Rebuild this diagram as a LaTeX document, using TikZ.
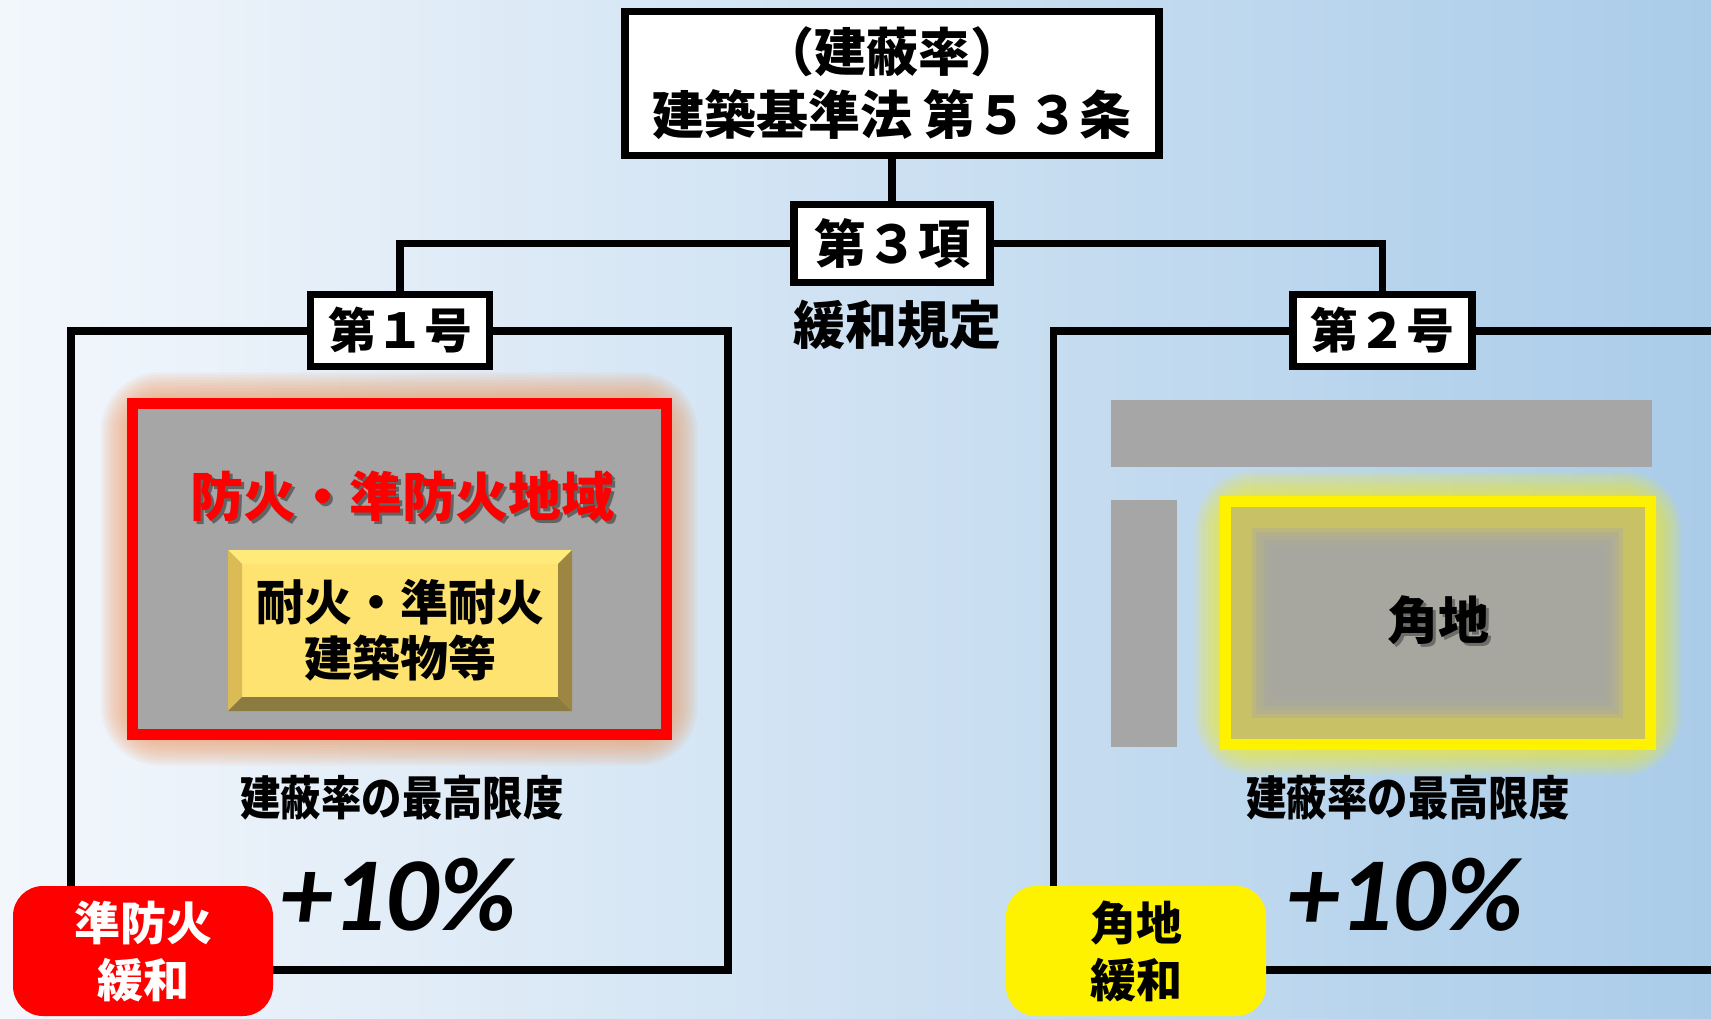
\documentclass[tikz,border=0pt]{standalone}
\usepackage{fontspec}
\usepackage{graphicx}
\newfontfamily\jp{Noto Sans CJK JP}
\newfontfamily\carl{Carlito}
\newcommand\fsz[2]{\fontsize{#1}{#2}\selectfont}
\definecolor{bgL}{RGB}{243,247,252}
\definecolor{bgR}{RGB}{170,204,233}
\definecolor{gr}{RGB}{166,166,166}
\definecolor{glowO}{RGB}{238,150,90}
\definecolor{olv}{RGB}{201,193,101}
\definecolor{bvTop}{RGB}{255,234,122}
\definecolor{bvFace}{RGB}{255,227,112}
\definecolor{bvLeft}{RGB}{218,187,85}
\definecolor{bvRight}{RGB}{156,134,66}
\definecolor{bvBot}{RGB}{140,123,64}
\tikzset{
  lbl/.style={draw=black, line width=3.75pt, fill=white, inner sep=0pt, align=center, font=\jp\bfseries\fsz{26pt}{31.5pt}},
  conn/.style={draw=black, line width=3.75pt},
  frm/.style={draw=black, line width=3.75pt},
  txt/.style={font=\jp\bfseries\fsz{26pt}{31pt}, inner sep=0pt, align=center},
}
\begin{document}
\begin{tikzpicture}[x=0.5pt,y=-0.5pt]
\path[use as bounding box, clip] (0,0) rectangle (1711,1018);
\shade[left color=bgL, right color=bgR] (0,0) rectangle (1711,1018);

% frames
\draw[frm] (71,331) rectangle (728,970);
\draw[frm] (1053.5,331) rectangle (1760,970);

% ---- left: fire zone ----
\foreach \w in {2,...,12}
  \draw[glowO, line width=\w*2.6pt, opacity=0.08, rounded corners=14pt] (132,403.5) rectangle (666.5,734.5);
\node[draw=red, line width=5.5pt, fill=gr, minimum width=267.25pt, minimum height=165.5pt, inner sep=0pt] (fz) at (399.25,569) {};
\node[txt, font=\jp\bfseries\fsz{26.5pt}{31pt}, text=black, opacity=0.4] at (405,499) {防火・準防火地域};
\node[txt, font=\jp\bfseries\fsz{26.5pt}{31pt}, text=red] (fzt) at (402,496) {防火・準防火地域};

% bevel box
\fill[bvFace] (242,564) rectangle (558,697);
\fill[bvTop] (228,550) -- (572,550) -- (558,564) -- (242,564) -- cycle;
\fill[bvLeft] (228,550) -- (242,564) -- (242,697) -- (228,711) -- cycle;
\fill[bvBot] (228,711) -- (242,697) -- (558,697) -- (572,711) -- cycle;
\fill[bvRight] (572,550) -- (572,711) -- (558,697) -- (558,564) -- cycle;
\node[txt, font=\jp\bfseries\fsz{24pt}{28pt}] (tk) at (400,630) {耐火・準耐火\\建築物等};

\node[txt, font=\jp\bfseries\fsz{23.5pt}{28pt}] (kl) at (402,798) {\scalebox{0.86}[1]{建蔽率の最高限度}};
\node[inner sep=0pt, font=\carl\bfseries\itshape\fsz{52.5pt}{60pt}] (pl) at (398,895) {+10\%};

\node[fill=red, rounded corners=15pt, minimum width=130pt, minimum height=65pt, inner sep=0pt, text=white, align=center, font=\jp\bfseries\fsz{23pt}{28.5pt}] (jb) at (143,951) {準防火\\緩和};

% ---- right: corner lot ----
\fill[gr] (1111,400) rectangle (1652,467);
\fill[gr] (1111,500) rectangle (1177,747);
\foreach \w in {2,...,12}
  \draw[yellow, line width=\w*2.6pt, opacity=0.07, rounded corners=14pt] (1225.5,501.5) rectangle (1650.5,744.5);
\fill[olv] (1225.5,501.5) rectangle (1650.5,744.5);
\foreach \dd in {-10,-6,...,10}
  \fill[gr, opacity=0.35] ({1262+\dd},{538+\dd}) rectangle ({1613-\dd},{708-\dd});
\node[draw=yellow, line width=5.5pt, minimum width=212.5pt, minimum height=121.5pt, inner sep=0pt] (kc) at (1438,623) {};
\node[txt, font=\jp\bfseries\fsz{25.5pt}{31pt}, text=black, opacity=0.35] at (1441,623) {角地};
\node[txt, font=\jp\bfseries\fsz{25.5pt}{31pt}] (kct) at (1438,620) {角地};

\node[txt, font=\jp\bfseries\fsz{23.5pt}{28pt}] (kr) at (1408,798) {\scalebox{0.86}[1]{建蔽率の最高限度}};
\node[inner sep=0pt, font=\carl\bfseries\itshape\fsz{52.5pt}{60pt}] (pr) at (1405,895) {+10\%};

\node[fill=yellow, rounded corners=15pt, minimum width=130pt, minimum height=65pt, inner sep=0pt, text=black, align=center, font=\jp\bfseries\fsz{23pt}{28.5pt}] (kb) at (1136,951) {角地\\緩和};

% ---- tree ----
\node[lbl, minimum width=267pt, minimum height=72pt] (top) at (892,83.5) {\addfontfeatures{RawFeature=+halt}（建蔽率）\\建築基準法 第５３条};
\node[lbl, minimum width=98pt, minimum height=39pt] (third) at (892,243.5) {第３項};
\node[lbl, font=\jp\bfseries\fsz{24pt}{28pt}, minimum width=89.5pt, minimum height=36pt] (go1) at (400,330.5) {第１号};
\node[lbl, font=\jp\bfseries\fsz{24pt}{28pt}, minimum width=89.5pt, minimum height=36pt] (go2) at (1382.5,330.5) {第２号};
\node[txt] (kanwa) at (897,325) {緩和規定};

\draw[conn] (top.south) -- (third.north);
\draw[conn] (third.west) -| (go1.north);
\draw[conn] (third.east) -| (go2.north);
\end{tikzpicture}
\end{document}
